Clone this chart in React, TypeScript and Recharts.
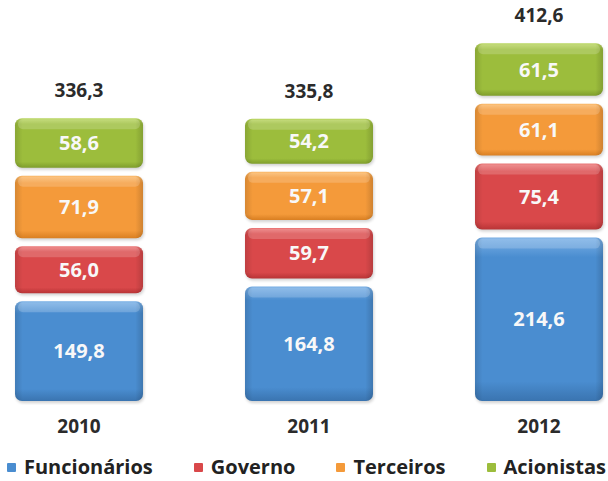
import React from 'react';
import { BarChart, Bar, XAxis, YAxis, LabelList, Legend } from 'recharts';

const years = ['2010', '2011', '2012'];
const funcionarios = [149.8, 164.8, 214.6];
const governo = [56.0, 59.7, 75.4];
const terceiros = [71.9, 57.1, 61.1];
const acionistas = [58.6, 54.2, 61.5];
const totals = [336.3, 335.8, 412.6];

const seriesNames = ['Funcionários', 'Governo', 'Terceiros', 'Acionistas'];
const seriesKeys = ['funcionarios', 'governo', 'terceiros', 'acionistas'];
const seriesColors = ['#4a8dd0', '#d9484a', '#f49a3a', '#9cbd3c'];
const seriesLight = ['#7ab0e6', '#ec7b7b', '#fbbb6e', '#bcd866'];
const seriesDark = ['#3a74b0', '#b83436', '#d97f22', '#7f9e2c'];

const data = years.map((year, i) => ({
  idx: i,
  year,
  funcionarios: funcionarios[i],
  governo: governo[i],
  terceiros: terceiros[i],
  acionistas: acionistas[i],
  total: totals[i],
}));

const fmt = (v: any) => (typeof v === 'number' ? v.toFixed(1).replace('.', ',') : v);

const makeShape = (si: number) => (props: any) => {
  const { x, y, width, height } = props;
  if (!height || height <= 0) return null;
  const inset = 4;
  const yy = y + inset;
  const hh = Math.max(0, height - 2 * inset);
  return (
    <g>
      <rect x={x + 1} y={yy + 2} width={width} height={hh} rx={7} fill="#000" opacity={0.18} filter="url(#blur)" />
      <rect x={x} y={yy} width={width} height={hh} rx={7} fill={`url(#gv${si})`} />
      <rect x={x} y={yy} width={width} height={hh} rx={7} fill="url(#hshade)" />
      <rect x={x + 3} y={yy + 1} width={width - 6} height={Math.min(10, hh / 4)} rx={5} fill="#fff" opacity={0.18} />
    </g>
  );
};

const renderLegend = (props: any) => {
  const payload = [...(props.payload || [])].sort(
    (a: any, b: any) => seriesNames.indexOf(a.value) - seriesNames.indexOf(b.value)
  );
  return (
    <div
      style={{
        display: 'flex',
        justifyContent: 'space-between',
        padding: '0 2px 0 7px',
        fontFamily: "'Open Sans', sans-serif",
        fontWeight: 700,
        fontSize: 20,
        color: '#222',
        lineHeight: '24px',
      }}
    >
      {payload.map((p: any, i: number) => (
        <div key={i} style={{ display: 'flex', alignItems: 'center' }}>
          <span
            style={{
              display: 'inline-block',
              width: 9,
              height: 9,
              background: p.color,
              marginRight: 8,
              borderRadius: 1,
            }}
          />
          <span>{p.value}</span>
        </div>
      ))}
    </div>
  );
};

export default function App() {
  return (
    <div style={{ position: 'absolute', left: 0, top: 0, width: 608, height: 481, background: '#fff', fontFamily: "'Open Sans', sans-serif" }}>
      <BarChart width={608} height={481} data={data} margin={{ top: 32, right: 0, left: 0, bottom: 36 }}>
        <defs>
          {seriesColors.map((c, i) => (
            <linearGradient key={i} id={`gv${i}`} x1="0" y1="0" x2="0" y2="1">
              <stop offset="0%" stopColor={seriesLight[i]} />
              <stop offset="12%" stopColor={c} />
              <stop offset="88%" stopColor={c} />
              <stop offset="100%" stopColor={seriesDark[i]} />
            </linearGradient>
          ))}
          <linearGradient id="hshade" x1="0" y1="0" x2="1" y2="0">
            <stop offset="0%" stopColor="#000" stopOpacity={0.12} />
            <stop offset="6%" stopColor="#000" stopOpacity={0} />
            <stop offset="94%" stopColor="#000" stopOpacity={0} />
            <stop offset="100%" stopColor="#000" stopOpacity={0.15} />
          </linearGradient>
          <filter id="blur" x="-10%" y="-10%" width="120%" height="130%">
            <feGaussianBlur stdDeviation="1.5" />
          </filter>
        </defs>
        <XAxis
          dataKey="idx"
          type="number"
          domain={[-0.3435, 2.3]}
          ticks={[0, 1, 2]}
          tickFormatter={(i: number) => years[i]}
          axisLine={false}
          tickLine={false}
          tickSize={0}
          tickMargin={15}
          height={40}
          tick={{ fill: '#2b2b2b', fontSize: 19, fontWeight: 700 }}
        />
        <YAxis hide type="number" domain={[40, 420]} allowDataOverflow />
        <Legend
          layout="horizontal"
          verticalAlign="middle"
          align="center"
          content={renderLegend}
          wrapperStyle={{ top: 455, left: 0, width: 608, height: 24 }}
        />
        {seriesKeys.map((k, si) => (
          <Bar
            key={k}
            dataKey={k}
            name={seriesNames[si]}
            stackId="a"
            fill={seriesColors[si]}
            barSize={128}
            isAnimationActive={false}
            shape={makeShape(si)}
          >
            <LabelList
              dataKey={k}
              position="center"
              formatter={fmt}
              fill="#f8f8f8"
              fontSize={20}
              fontWeight={700}
            />
            {si === 3 ? (
              <LabelList
                dataKey="total"
                position="top"
                offset={17}
                formatter={fmt}
                fill="#2b2b2b"
                fontSize={19}
                fontWeight={700}
              />
            ) : null}
          </Bar>
        ))}
      </BarChart>
    </div>
  );
}
